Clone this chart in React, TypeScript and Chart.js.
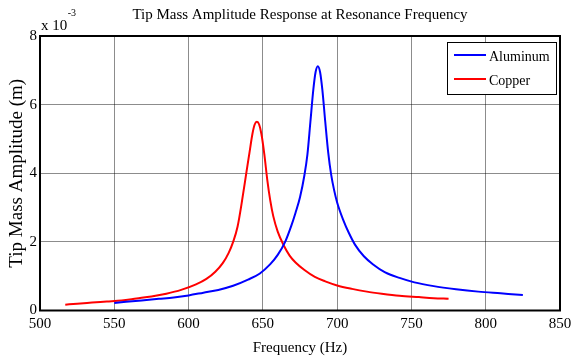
import React, { useEffect, useRef } from "react";
import { Chart, registerables } from "chart.js";

Chart.register(...registerables);

// ---------- data ----------
const TITLE = "Tip Mass Amplitude Response at Resonance Frequency";
const X_LABEL = "Frequency (Hz)";
const Y_LABEL = "Tip Mass Amplitude (m)";
const Y_EXPONENT = "-3";
const SERIES_NAMES = ["Aluminum", "Copper"];
const SERIES_COLORS = ["#0000ff", "#ff0000"];
const X_TICKS = [500, 550, 600, 650, 700, 750, 800, 850];
const Y_TICKS = [0, 2, 4, 6, 8];

// amplitudes in units of 10^-3 m
const aluminumFreq = [
  550, 560, 570, 580, 590, 600, 610, 620, 630, 640, 648, 655, 660, 665, 669, 672,
  675, 678, 680, 682, 684, 685.5, 687, 688.5, 690, 692, 694, 696, 698, 700, 704, 708, 712, 718,
  724, 732, 742, 752, 765, 780, 795, 810, 825,
];
const aluminumAmp = [
  0.22, 0.26, 0.3, 0.34, 0.38, 0.44, 0.52, 0.6, 0.72, 0.9, 1.08, 1.35, 1.62, 2.0, 2.45, 2.85,
  3.3, 3.95, 4.55, 5.5, 6.45, 6.95, 7.12, 6.95, 6.45, 5.5, 4.6, 3.95, 3.5, 3.15, 2.65, 2.25, 1.92, 1.58,
  1.35, 1.12, 0.95, 0.82, 0.71, 0.62, 0.55, 0.5, 0.45,
];
const copperFreq = [
  517, 525, 535, 545, 555, 565, 575, 585, 595, 605, 612, 618, 623, 627, 630, 633,
  636, 639, 641, 643, 644.5, 646, 647.5, 649, 651, 653, 655, 657, 660, 664, 668, 672, 678,
  685, 692, 700, 710, 720, 730, 742, 755, 765, 775,
];
const copperAmp = [
  0.17, 0.2, 0.23, 0.26, 0.29, 0.35, 0.41, 0.49, 0.6, 0.76, 0.92, 1.13, 1.38, 1.68, 2.0, 2.45,
  3.2, 4.05, 4.6, 5.15, 5.42, 5.5, 5.42, 5.15, 4.55, 3.8, 3.2, 2.75, 2.3, 1.9, 1.6, 1.4, 1.18,
  0.98, 0.85, 0.73, 0.63, 0.55, 0.49, 0.43, 0.39, 0.36, 0.34,
];

const FONT = "'Liberation Serif', 'Times New Roman', serif";

const decorPlugin = {
  id: "decor",
  afterDraw(chart: any) {
    const { ctx, chartArea } = chart;
    const { left, right, top, bottom } = chartArea;
    ctx.save();
    // axes box
    ctx.strokeStyle = "#000";
    ctx.lineWidth = 2;
    ctx.strokeRect(left, top, right - left, bottom - top);

    // title
    ctx.fillStyle = "#000";
    ctx.font = `15px ${FONT}`;
    ctx.textAlign = "center";
    ctx.textBaseline = "alphabetic";
    ctx.fillText(TITLE, (left + right) / 2, 19);

    // exponent
    ctx.textAlign = "left";
    ctx.font = `15px ${FONT}`;
    ctx.fillText("x 10", left + 1, 30);
    const w = ctx.measureText("x 10").width;
    ctx.font = `10px ${FONT}`;
    ctx.fillText(Y_EXPONENT, left + 1 + w + 0.5, 16);

    // legend
    const bw = 109;
    const bh = 52;
    const bx = right - 4 - bw;
    const by = top + 6;
    ctx.fillStyle = "#fff";
    ctx.fillRect(bx, by, bw, bh);
    ctx.strokeStyle = "#000";
    ctx.lineWidth = 1;
    ctx.strokeRect(bx + 0.5, by + 0.5, bw, bh);
    chart.data.datasets.forEach((ds: any, i: number) => {
      const ly = by + 13 + i * 24;
      ctx.strokeStyle = ds.borderColor;
      ctx.lineWidth = 2;
      ctx.beginPath();
      ctx.moveTo(bx + 7, ly);
      ctx.lineTo(bx + 39, ly);
      ctx.stroke();
      ctx.fillStyle = "#000";
      ctx.font = `14px ${FONT}`;
      ctx.textAlign = "left";
      ctx.textBaseline = "alphabetic";
      ctx.fillText(ds.label, bx + 42, ly + 5.5);
    });
    ctx.restore();
  },
};

export default function App() {
  const ref = useRef<HTMLCanvasElement | null>(null);

  useEffect(() => {
    if (!ref.current) return;
    const chart = new Chart(ref.current, {
      type: "line",
      data: {
        datasets: [
          {
            label: SERIES_NAMES[0],
            data: aluminumFreq.map((f, i) => ({ x: f, y: aluminumAmp[i] })),
            borderColor: SERIES_COLORS[0],
            backgroundColor: SERIES_COLORS[0],
            borderWidth: 2,
            pointRadius: 0,
            cubicInterpolationMode: "monotone",
            fill: false,
          },
          {
            label: SERIES_NAMES[1],
            data: copperFreq.map((f, i) => ({ x: f, y: copperAmp[i] })),
            borderColor: SERIES_COLORS[1],
            backgroundColor: SERIES_COLORS[1],
            borderWidth: 2,
            pointRadius: 0,
            cubicInterpolationMode: "monotone",
            fill: false,
          },
        ],
      },
      options: {
        animation: false,
        responsive: false,
        devicePixelRatio: 1,
        layout: { padding: { left: 0, top: 36, right: 11, bottom: 0 } },
        plugins: {
          legend: { display: false },
          title: { display: false },
          tooltip: { enabled: false },
        },
        scales: {
          x: {
            type: "linear",
            min: 500,
            max: 850,
            afterBuildTicks: (s: any) => {
              s.ticks = X_TICKS.map((v) => ({ value: v }));
            },
            afterFit: (s: any) => {
              s.height = 50.5;
              s.paddingLeft = 0;
              s.paddingRight = 0;
            },
            grid: { color: "rgba(0,0,0,0.45)", lineWidth: 1, drawTicks: false },
            border: { display: false },
            ticks: {
              color: "#000",
              font: { family: FONT, size: 15 },
              padding: 5,
              maxRotation: 0,
              autoSkip: false,
            },
            title: {
              display: true,
              text: X_LABEL,
              color: "#000",
              font: { family: FONT, size: 15 },
              padding: { top: 0, bottom: 4 },
            },
          },
          y: {
            type: "linear",
            min: 0,
            max: 8,
            afterBuildTicks: (s: any) => {
              s.ticks = Y_TICKS.map((v) => ({ value: v }));
            },
            afterFit: (s: any) => {
              s.width = 40;
              s.paddingTop = 0;
              s.paddingBottom = 0;
            },
            grid: { color: "rgba(0,0,0,0.45)", lineWidth: 1, drawTicks: false },
            border: { display: false },
            ticks: {
              color: "#000",
              font: { family: FONT, size: 15 },
              padding: 3,
              autoSkip: false,
            },
            title: {
              display: true,
              text: Y_LABEL,
              color: "#000",
              font: { family: FONT, size: 19 },
              padding: { top: 6, bottom: 0 },
            },
          },
        },
      },
      plugins: [decorPlugin],
    } as any);
    return () => chart.destroy();
  }, []);

  return (
    <div style={{ position: "absolute", left: 0, top: 0, width: 571, height: 361, background: "#fff" }}>
      <canvas ref={ref} width={571} height={361} style={{ display: "block" }} />
    </div>
  );
}
